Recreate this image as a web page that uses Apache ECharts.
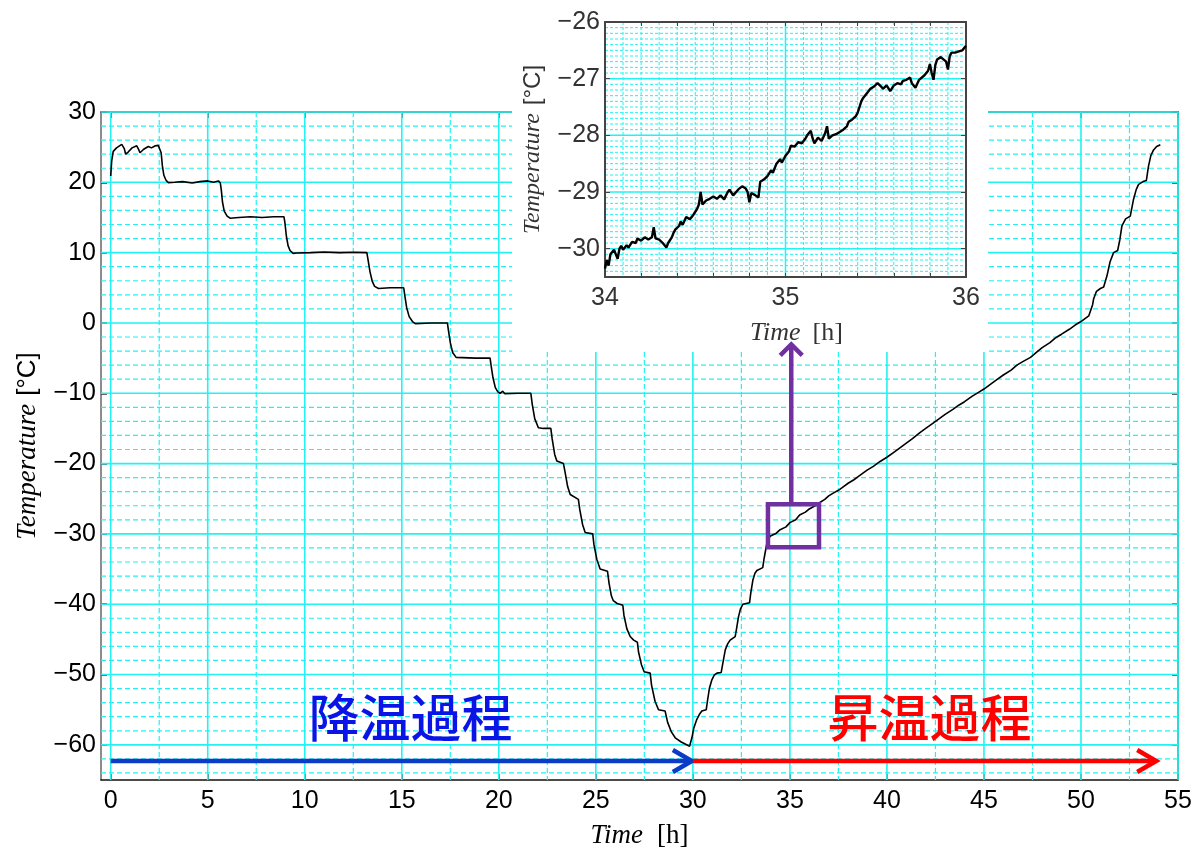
<!DOCTYPE html>
<html>
<head>
<meta charset="utf-8">
<script src="https://cdn.jsdelivr.net/npm/echarts@6/dist/echarts.min.js"></script>
<style>html,body{margin:0;padding:0;background:#fff}#c{width:1204px;height:854px}</style>
</head>
<body>
<div id="c"></div>
<script>
// ---------- data ----------
const xTicks = [0,5,10,15,20,25,30,35,40,45,50,55];
const yTicks = [-60,-50,-40,-30,-20,-10,0,10,20,30];
const insetXTicks = [34,35,36];
const insetYTicks = [-30,-29,-28,-27,-26];

const mainTime = [0,0.05,0.13,0.3,0.57,0.7,0.77,0.9,1.1,1.34,1.45,1.51,1.7,1.94,2.1,2.3,2.45,2.55,2.6,2.66,2.74,2.85,2.97,3.3,3.7,4.2,4.6,5.0,5.3,5.4,5.55,5.65,5.7,5.76,5.85,6.0,6.15,6.6,7.2,7.8,8.4,8.93,8.98,9.05,9.14,9.24,9.4,9.59,10.3,11,11.8,12.5,13.2,13.26,13.36,13.48,13.6,13.8,14.4,15.1,15.15,15.25,15.38,15.55,15.7,16.5,17.35,17.4,17.5,17.62,17.8,17.9,18.8,19.55,19.6,19.7,19.82,19.95,20.07,20.2,20.3,21.0,21.65,21.72,21.85,22.04,22.3,22.68,22.75,22.88,22.99,23.33,23.4,23.55,23.68,24.1,24.17,24.32,24.45,24.84,24.9,25.05,25.22,25.6,25.68,25.8,25.9,26.1,26.39,26.45,26.6,26.77,26.95,27.14,27.2,27.35,27.49,27.8,27.87,28.05,28.23,28.57,28.7,28.9,29.09,29.4,29.83,29.95,30.05,30.2,30.35,30.46,30.69,30.75,30.85,30.98,31.1,31.24,31.46,31.55,31.67,31.8,31.92,32.18,32.25,32.35,32.45,32.58,32.92,32.98,33.09,33.2,33.3,33.6,33.67,33.81,33.92,34.0,34.3,34.5,34.8,35.0,35.3,35.5,35.8,36.0,36.3,36.5,36.8,37.0,37.3,37.5,37.8,38.0,38.3,38.5,38.8,39.0,39.3,39.65,40.0,40.3,40.6,41.0,41.3,41.7,42.0,42.4,42.7,43.0,43.4,43.7,44.0,44.4,44.7,45.0,45.4,45.7,46.0,46.4,46.7,47.0,47.4,47.7,48.0,48.4,48.7,49.0,49.4,49.7,50.0,50.4,50.48,50.6,50.65,50.8,51.0,51.17,51.34,51.5,51.68,51.89,52.0,52.11,52.3,52.54,52.71,52.85,52.97,53.2,53.37,53.48,53.6,53.74,53.9,54.09];
const mainTemp = [20.9,23.0,24.4,24.9,25.4,24.8,24.0,24.3,24.9,25.2,24.6,24.2,24.7,25.1,24.9,25.2,25.25,25.2,24.2,22.4,21.0,20.3,19.95,20.0,20.1,19.9,20.1,20.2,20.0,19.8,20.2,19.9,18.9,17.2,15.9,15.2,14.9,15.0,15.1,15.0,15.1,15.1,14.2,12.4,11.0,10.3,9.9,9.95,10.0,10.1,10.0,10.05,10.0,9.0,7.3,5.9,5.2,4.9,5.0,5.0,4.0,2.2,0.9,0.2,-0.1,0.0,0.0,-1.0,-2.8,-4.2,-4.9,-5.1,-5.0,-5.0,-6.0,-7.8,-9.2,-9.8,-10.0,-9.7,-10.05,-10.0,-10.0,-11.5,-13.6,-14.9,-15.0,-15.0,-16.5,-18.7,-19.65,-20.0,-21.0,-23.3,-24.4,-25.1,-26.5,-28.7,-29.8,-30.0,-31.5,-33.6,-35.0,-35.3,-37.0,-38.8,-39.5,-39.9,-40.15,-41.6,-43.5,-44.6,-45.1,-45.4,-46.8,-48.6,-49.6,-49.8,-51.5,-53.8,-55.0,-55.2,-56.8,-58.2,-59.0,-59.6,-60.2,-59.0,-57.6,-56.4,-55.6,-55.2,-55.0,-53.8,-52.0,-50.75,-50.1,-49.8,-49.7,-48.3,-46.5,-45.6,-45.1,-44.6,-43.5,-41.8,-40.7,-40.0,-39.8,-38.5,-36.6,-35.6,-35.2,-34.8,-33.5,-31.4,-30.6,-30.3,-29.9,-29.4,-29.0,-28.4,-28.0,-27.3,-26.9,-26.45,-26.0,-25.6,-25.1,-24.6,-24.1,-23.8,-23.2,-22.8,-22.3,-21.9,-21.3,-20.9,-20.4,-19.7,-19.1,-18.5,-17.9,-17.1,-16.5,-15.6,-15.0,-14.2,-13.6,-13.0,-12.3,-11.7,-11.2,-10.4,-9.9,-9.4,-8.6,-8.0,-7.4,-6.7,-6.0,-5.5,-4.9,-4.2,-3.5,-2.8,-2.1,-1.6,-0.9,-0.3,0.2,1.0,1.1,2.6,3.4,4.5,4.9,5.1,6.7,8.7,10.0,10.3,11.8,13.8,14.8,15.2,17.6,19.0,19.7,20.1,20.26,22.3,23.8,24.6,25.1,25.35];

const insetTime = [34.00,34.01,34.02,34.03,34.04,34.05,34.06,34.07,34.08,34.09,34.10,34.12,34.13,34.15,34.17,34.18,34.20,34.22,34.24,34.26,34.27,34.28,34.30,34.32,34.34,34.35,34.37,34.38,34.39,34.41,34.42,34.43,34.45,34.47,34.49,34.51,34.52,34.53,34.54,34.56,34.58,34.60,34.62,34.64,34.66,34.68,34.69,34.71,34.72,34.74,34.76,34.78,34.79,34.80,34.81,34.83,34.85,34.86,34.88,34.90,34.92,34.93,34.95,34.97,34.98,35.00,35.02,35.03,35.05,35.07,35.09,35.11,35.12,35.14,35.15,35.16,35.18,35.20,35.22,35.23,35.24,35.26,35.28,35.30,35.32,35.34,35.35,35.37,35.39,35.40,35.41,35.42,35.43,35.45,35.47,35.49,35.51,35.53,35.54,35.56,35.58,35.60,35.62,35.64,35.65,35.67,35.69,35.70,35.72,35.74,35.75,35.77,35.79,35.80,35.81,35.82,35.83,35.84,35.86,35.87,35.89,35.90,35.91,35.92,35.94,35.96,35.98,36.00];
const insetTemp = [-30.35,-30.2,-30.3,-30.1,-30.12,-30.02,-30.1,-30.18,-30.0,-29.95,-30.02,-29.94,-29.98,-29.88,-29.9,-29.82,-29.86,-29.8,-29.84,-29.8,-29.62,-29.82,-29.84,-29.9,-29.98,-29.9,-29.8,-29.72,-29.66,-29.6,-29.52,-29.58,-29.44,-29.48,-29.4,-29.3,-29.22,-29.0,-29.22,-29.15,-29.12,-29.08,-29.12,-29.06,-29.13,-29.0,-28.96,-29.06,-29.08,-28.95,-28.9,-28.94,-29.0,-29.18,-29.02,-29.05,-29.1,-28.82,-28.78,-28.72,-28.62,-28.66,-28.5,-28.42,-28.48,-28.36,-28.28,-28.18,-28.2,-28.12,-28.14,-28.06,-28.0,-27.92,-28.05,-28.14,-28.04,-28.1,-27.96,-27.84,-28.06,-28.0,-27.98,-27.94,-27.9,-27.84,-27.76,-27.72,-27.66,-27.6,-27.5,-27.4,-27.34,-27.26,-27.18,-27.14,-27.08,-27.14,-27.18,-27.12,-27.22,-27.12,-27.08,-27.1,-27.04,-27.02,-26.98,-27.08,-27.16,-27.02,-27.04,-26.94,-26.86,-26.74,-26.9,-27.02,-26.76,-26.66,-26.62,-26.6,-26.7,-26.84,-26.6,-26.54,-26.54,-26.52,-26.5,-26.42];

// annotations (data coordinates)
const phaseArrows = [ {from:[0,-62.3], to:[30,-62.3], color:'#0A3CC8'}, {from:[30,-62.3], to:[53.93,-62.3], color:'#FF0000'} ];
const phaseLabels = [ {text:'降温過程', at:[15.45,-56.2], color:'#0A14E6'}, {text:'昇温過程', at:[42.2,-56.2], color:'#FF0000'} ];
const zoomBox = [33.87, 36.5, -31.9, -25.8]; // xMin, xMax, yMin, yMax
const zoomArrow = [35.07, -25.8, -2.9];      // x, yFrom, yTo

// ---------- helpers ----------
const minus = v => String(v).replace('-', '\u2212');
function range(a, b, step) { const r = []; for (let i = 0; a + i*step <= b + 1e-9; i++) r.push(+(a + i*step).toFixed(4)); return r; }
const mainVSolid = range(0, 55, 5);
const mainVDash = range(2.5, 52.5, 5);
const mainHSolid = range(-60, 30, 10);
const mainHDash = range(-64, 28, 2).filter(v => v % 10 !== 0);
const insVDash = range(34.1, 35.9, 0.1).filter(v => Math.abs(v - 35) > 1e-6);
const insHDash = range(-30.4, -26.1, 0.1).filter(v => Math.abs(v - Math.round(v)) > 1e-6);
const insVSolid = [35];
const insHSolid = [-30,-29,-28,-27];

const CYAN = '#22F2F2';
function gridSeries(vals, vertical, xi, yi, ref, solid, z, dash, w) {
  return {
    type: 'custom', xAxisIndex: xi, yAxisIndex: yi, z: z, silent: true,
    data: vals.map(v => vertical ? [v, ref] : [ref, v]),
    renderItem: function (params, api) {
      const cs = params.coordSys;
      const p = api.coord([api.value(0), api.value(1)]);
      const shape = vertical ? {x1: p[0], y1: cs.y, x2: p[0], y2: cs.y + cs.height}
                             : {x1: cs.x, y1: p[1], x2: cs.x + cs.width, y2: p[1]};
      return {type: 'line', shape: shape, style: {stroke: CYAN, lineWidth: w, lineDash: solid ? null : dash}};
    }
  };
}

const chart = echarts.init(document.getElementById('c'), null, {renderer: 'canvas'});
const sans = 'Liberation Sans';
const serif = 'Liberation Serif';

function axisBase(extra) {
  return Object.assign({
    type: 'value', splitLine: {show: false},
    axisLine: {show: true, onZero: false, lineStyle: {color: '#333', width: 1.5}},
  }, extra);
}

const option = {
  backgroundColor: '#fff',
  animation: false,
  grid: [
    {left: 101, top: 112, width: 1077, height: 672},
    {left: 605, top: 22, width: 361, height: 255}
  ],
  graphic: [
    {type: 'rect', z: 50, shape: {x: 512, y: 0, width: 476, height: 352}, style: {fill: '#fff'}, silent: true}
  ],
  xAxis: [
    axisBase({gridIndex: 0, min: -0.5, max: 55, position: 'bottom',
      axisLine: {show: true, onZero: false, lineStyle: {color: '#111', width: 1.5}},
      axisTick: {inside: true, length: 6, customValues: xTicks, lineStyle: {color: '#333', width: 1.5}},
      axisLabel: {customValues: xTicks, fontSize: 25, color: '#000', fontFamily: sans, margin: 9},
      name: '{it|Time}{n|[h]}', nameLocation: 'middle', nameGap: 42,
      nameTextStyle: {rich: {it: {fontFamily: serif, fontStyle: 'italic', fontSize: 27, color: '#000'}, n: {fontFamily: serif, fontSize: 27, color: '#000', padding: [0, 0, 0, 14]}}}
    }),
    axisBase({gridIndex: 0, min: -0.5, max: 55, position: 'top',
      axisLine: {show: true, onZero: false, lineStyle: {color: '#2a4a4a', width: 1.5}},
      axisTick: {inside: true, length: 6, customValues: xTicks, lineStyle: {color: '#333', width: 1.5}},
      axisLabel: {show: false}
    }),
    axisBase({gridIndex: 1, min: 34, max: 36, position: 'bottom', z: 60,
      axisLine: {show: true, onZero: false, lineStyle: {color: '#444', width: 2}},
      axisTick: {inside: true, length: 4, customValues: range(34, 36, 0.2), lineStyle: {color: '#444'}},
      axisLabel: {customValues: insetXTicks, fontSize: 25, color: '#333', fontFamily: sans, margin: 9},
      name: '{it|Time}{n|[h]}', nameLocation: 'middle', nameGap: 43,
      nameTextStyle: {padding: [0, 0, 0, 22], rich: {it: {fontFamily: serif, fontStyle: 'italic', fontSize: 26, color: '#333'}, n: {fontFamily: serif, fontSize: 26, color: '#333', padding: [0, 0, 0, 12]}}}
    }),
    axisBase({gridIndex: 1, min: 34, max: 36, position: 'top', z: 60,
      axisLine: {show: true, onZero: false, lineStyle: {color: '#444', width: 2}},
      axisTick: {inside: true, length: 4, customValues: range(34, 36, 0.2), lineStyle: {color: '#444'}},
      axisLabel: {show: false}
    })
  ],
  yAxis: [
    axisBase({gridIndex: 0, min: -65, max: 30, position: 'left',
      axisLine: {show: true, onZero: false, lineStyle: {color: '#666', width: 1.5}},
      axisTick: {inside: true, length: 6, customValues: yTicks, lineStyle: {color: '#333', width: 1.5}},
      axisLabel: {customValues: yTicks, fontSize: 25, color: '#000', fontFamily: sans, margin: 5, formatter: minus},
      name: '{it|Temperature}{n|[°C]}', nameLocation: 'middle', nameGap: 60,
      nameTextStyle: {rich: {it: {fontFamily: serif, fontStyle: 'italic', fontSize: 27, color: '#000'}, n: {fontFamily: sans, fontSize: 26, color: '#000', padding: [0, 0, 0, 8]}}}
    }),
    axisBase({gridIndex: 0, min: -65, max: 30, position: 'right',
      axisLine: {show: true, onZero: false, lineStyle: {color: '#2a4a4a', width: 1.5}},
      axisTick: {inside: true, length: 6, customValues: yTicks, lineStyle: {color: '#333', width: 1.5}},
      axisLabel: {show: false}
    }),
    axisBase({gridIndex: 1, min: -30.5, max: -26, position: 'left', z: 60,
      axisLine: {show: true, onZero: false, lineStyle: {color: '#444', width: 2}},
      axisTick: {inside: true, length: 5, customValues: insetYTicks, lineStyle: {color: '#444'}},
      axisLabel: {customValues: insetYTicks, fontSize: 25, color: '#333', fontFamily: sans, margin: 5, formatter: minus},
      name: '{it|Temperature}{n|[°C]}', nameLocation: 'middle', nameGap: 60,
      nameTextStyle: {rich: {it: {fontFamily: serif, fontStyle: 'italic', fontSize: 24, color: '#333'}, n: {fontFamily: sans, fontSize: 24, color: '#333', padding: [0, 0, 0, 8]}}}
    }),
    axisBase({gridIndex: 1, min: -30.5, max: -26, position: 'right', z: 60,
      axisLine: {show: true, onZero: false, lineStyle: {color: '#444', width: 2}},
      axisTick: {inside: true, length: 5, customValues: insetYTicks, lineStyle: {color: '#444'}},
      axisLabel: {show: false}
    })
  ],
  series: [
    gridSeries(mainVDash, true, 0, 0, -65, false, 1, [5, 3], 1.2),
    gridSeries(mainHDash, false, 0, 0, 0, false, 1, [5, 3], 1.2),
    gridSeries(mainVSolid, true, 0, 0, -65, true, 1, null, 1.6),
    gridSeries(mainHSolid, false, 0, 0, 0, true, 1, null, 1.6),
    {
      type: 'line', xAxisIndex: 0, yAxisIndex: 0, z: 5, showSymbol: false, symbol: 'none', silent: true,
      data: mainTime.map((t, i) => [t, mainTemp[i]]),
      lineStyle: {color: '#000', width: 1.6}
    },
    {
      type: 'custom', xAxisIndex: 0, yAxisIndex: 0, z: 6, silent: true,
      data: phaseArrows.map((a, i) => [a.from[0], a.from[1], a.to[0], a.to[1], i]),
      renderItem: function (params, api) {
        const a = phaseArrows[api.value(4)];
        const p0 = api.coord([api.value(0), api.value(1)]);
        const p1 = api.coord([api.value(2), api.value(3)]);
        const st = {stroke: a.color, lineWidth: 4.5, lineCap: 'butt', lineJoin: 'miter', fill: null};
        return {type: 'group', children: [
          {type: 'line', shape: {x1: p0[0], y1: p0[1], x2: p1[0] - 1, y2: p1[1]}, style: st},
          {type: 'polyline', shape: {points: [[p1[0] - 20, p1[1] - 11], [p1[0] - 1, p1[1]], [p1[0] - 20, p1[1] + 11]]}, style: st}
        ]};
      }
    },
    {
      type: 'custom', xAxisIndex: 0, yAxisIndex: 0, z: 6, silent: true,
      data: phaseLabels.map((l, i) => [l.at[0], l.at[1], i]),
      renderItem: function (params, api) {
        const l = phaseLabels[api.value(2)];
        const p = api.coord([api.value(0), api.value(1)]);
        return {type: 'text', x: p[0], y: p[1], style: {text: l.text, fill: l.color, fontSize: 51, fontFamily: 'Noto Sans CJK JP', fontWeight: 500, align: 'center', verticalAlign: 'middle'}};
      }
    },
    {
      type: 'custom', xAxisIndex: 0, yAxisIndex: 0, z: 70, silent: true,
      data: [[zoomBox[0], zoomBox[2], zoomBox[1], zoomBox[3], zoomArrow[0], zoomArrow[1], zoomArrow[2]]],
      renderItem: function (params, api) {
        const a = api.coord([api.value(0), api.value(3)]);
        const b = api.coord([api.value(2), api.value(1)]);
        const s0 = api.coord([api.value(4), api.value(5)]);
        const s1 = api.coord([api.value(4), api.value(6)]);
        const st = {stroke: '#7030A0', lineWidth: 4.5, fill: null, lineJoin: 'miter'};
        return {type: 'group', children: [
          {type: 'rect', shape: {x: a[0], y: a[1], width: b[0] - a[0], height: b[1] - a[1]}, style: st},
          {type: 'line', shape: {x1: s0[0], y1: s0[1], x2: s1[0], y2: s1[1] + 1}, style: st},
          {type: 'polyline', shape: {points: [[s1[0] - 11, s1[1] + 12], [s1[0], s1[1] + 1], [s1[0] + 11, s1[1] + 12]]}, style: st}
        ]};
      }
    },
    gridSeries(insVDash, true, 2, 2, -30.5, false, 55, [3, 2], 1),
    gridSeries(insHDash, false, 2, 2, 34, false, 55, [3, 2], 1),
    gridSeries(insVSolid, true, 2, 2, -30.5, true, 55, null, 1.5),
    gridSeries(insHSolid, false, 2, 2, 34, true, 55, null, 1.5),
    {
      type: 'line', xAxisIndex: 2, yAxisIndex: 2, z: 60, showSymbol: false, symbol: 'none', silent: true,
      data: insetTime.map((t, i) => [t, insetTemp[i]]),
      lineStyle: {color: '#000', width: 2.4}
    }
  ]
};
chart.setOption(option);
</script>
</body>
</html>
